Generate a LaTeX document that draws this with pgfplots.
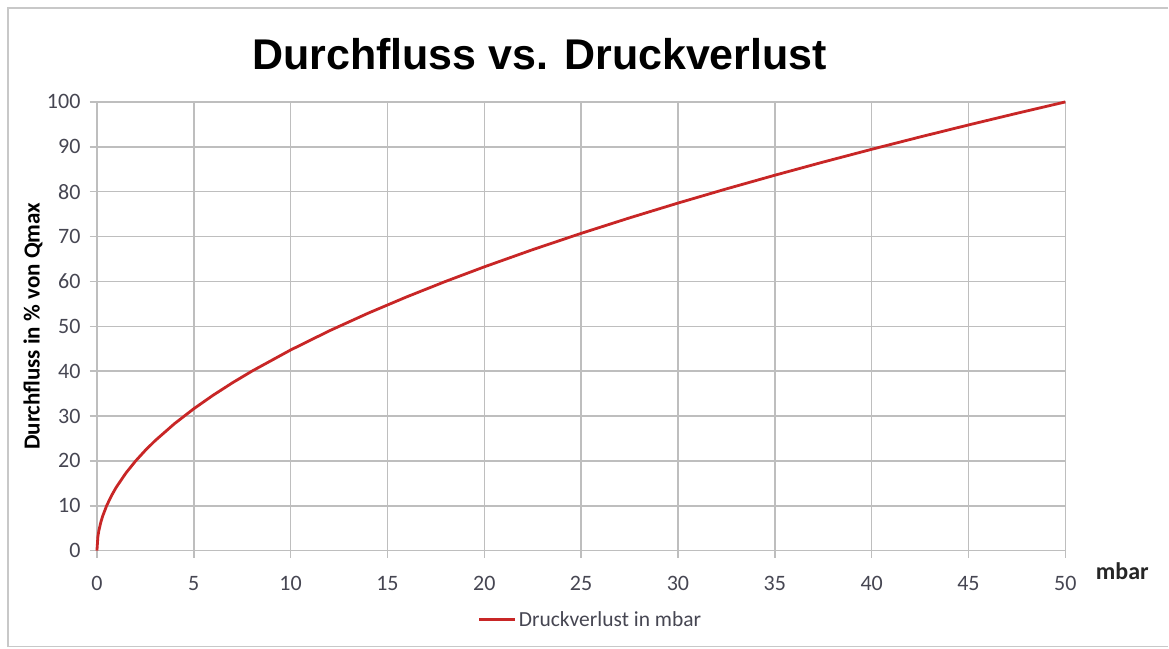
\documentclass[border=0pt]{standalone}
\usepackage{pgfplots}
\pgfplotsset{compat=1.18}
\usepackage{fontspec}
\setmainfont{Carlito}
\newfontfamily\arialfont{Liberation Sans}
\definecolor{curvered}{RGB}{200,38,38}
\definecolor{gridgray}{RGB}{190,190,190}
\definecolor{ticktext}{RGB}{70,70,82}
\definecolor{framegray}{RGB}{200,200,200}
\begin{document}
\begin{tikzpicture}[x=1pt,y=1pt]
\path[fill=white] (-97,-98) rectangle (1072,551);
\draw[framegray, line width=1.5pt] (1072,543) -- (-89,543) -- (-89,-96) -- (1072,-96);
\begin{axis}[
  at={(0,0)}, anchor=south west,
  scale only axis, width=969pt, height=449pt,
  xmin=0, xmax=50, ymin=0, ymax=100,
  xtick={0,5,...,50}, ytick={0,10,...,100},
  grid=major,
  grid style={gridgray, line width=1.5pt},
  axis line style={gridgray, line width=1.5pt},
  tick style={gridgray, line width=1.5pt},
  major tick length=7pt,
  tick align=outside,
  xtick pos=left, ytick pos=left,
  ticklabel style={font=\fontsize{22}{25}\selectfont, text=ticktext},
  yticklabel style={xshift=-6pt},
  xticklabel style={yshift=-15pt},
  /pgf/number format/assume math mode=true,
  clip=false,
  xlabel={mbar},
  xlabel style={at={(axis description cs:1.0588,-0.0468)}, anchor=center, font=\bfseries\fontsize{24}{27}\selectfont, text=black!85},
  ylabel={Durchfluss in \% von Qmax},
  ylabel style={at={(axis description cs:-0.066,0.5)}, anchor=center, rotate=0, font=\bfseries\fontsize{23}{26}\selectfont},
  legend style={at={(axis description cs:0.5098,-0.1537)}, anchor=center, draw=none, fill=none, font=\fontsize{21.5}{25}\selectfont, text=ticktext, inner sep=0pt},
  legend image code/.code={\draw[#1] (0pt,0pt) -- (36pt,0pt);},
  legend cell align=left,
]
\addplot[curvered, line width=2.8pt] coordinates {
(0,0) (0.05,3.162) (0.1,4.472) (0.2,6.325) (0.3,7.746) (0.5,10.0) (0.75,12.247)
(1,14.142) (1.5,17.321) (2,20.0) (2.5,22.361) (3,24.495) (4,28.284) (5,31.623)
(6,34.641) (7,37.417) (8,40.0) (10,44.721) (12,48.990) (14,52.915) (16,56.569)
(18,60.0) (20,63.246) (22.5,67.082) (25,70.711) (27.5,74.162) (30,77.460)
(32.5,80.623) (35,83.666) (37.5,86.603) (40,89.443) (42.5,92.195) (45,94.868)
(47.5,97.468) (50,100)
};
\addlegendentry{Druckverlust in mbar}
\end{axis}
\node[anchor=base, font=\arialfont\bfseries\fontsize{43}{49}\selectfont] at (443,481) {Durchfluss vs. Druckverlust};
\end{tikzpicture}
\end{document}
